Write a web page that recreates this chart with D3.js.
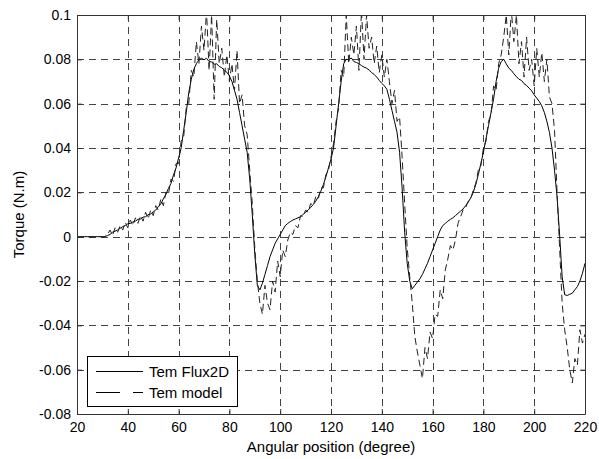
<!DOCTYPE html>
<html><head><meta charset="utf-8">
<script src="https://cdn.jsdelivr.net/npm/d3@7"></script>
<style>body{margin:0;background:#fff;} svg{display:block;}</style>
</head><body>
<svg id="chart" width="599" height="459"></svg>
<script>
const xTicks = [20,40,60,80,100,120,140,160,180,200,220];
const yTicks = [0.1,0.08,0.06,0.04,0.02,0,-0.02,-0.04,-0.06,-0.08];
const yTickLabels = ["0.1","0.08","0.06","0.04","0.02","0","-0.02","-0.04","-0.06","-0.08"];
const seriesNames = ["Tem Flux2D","Tem model"];
const angle = d3.range(20,221,1);
const fluxTorque = [
0,0,0,0,0,0,0,0,0,0,0,0,            // 20-31
0.0005,0.001,0.002,0.0025,0.003,0.0038,0.0045,0.005,0.0058, // 32-40
0.006,0.0066,0.007,0.0078,0.008,0.0088,0.009,0.0099,0.0102,0.0112, // 41-50
0.012,0.0135,0.0148,0.0171,0.019,0.0218,0.024,0.0279,0.031,0.0355, // 51-60
0.04,0.048,0.056,0.065,0.071,0.0755,0.078,0.0798,0.0805,0.0798, // 61-70
0.0805,0.079,0.0788,0.0778,0.078,0.0768,0.0762,0.075,0.0742,0.0725, // 71-80
0.07,0.066,0.062,0.056,0.05,0.044,0.038,0.026,0.01,-0.008, // 81-90
-0.022,-0.024,-0.021,-0.017,-0.013,-0.009,-0.006,-0.003,-0.001,0.001, // 91-100
0.003,0.005,0.006,0.0068,0.0075,0.008,0.0085,0.009,0.01,0.011, // 101-110
0.012,0.0132,0.0145,0.016,0.018,0.0205,0.0235,0.027,0.031,0.035, // 111-120
0.04,0.05,0.06,0.07,0.078,0.08,0.0798,0.0806,0.079,0.0786, // 121-130
0.078,0.0772,0.0765,0.076,0.0752,0.074,0.0732,0.072,0.0705,0.0692, // 131-140
0.068,0.0665,0.062,0.057,0.052,0.047,0.038,0.022,0.002,-0.012, // 141-150
-0.02,-0.0235,-0.022,-0.0205,-0.019,-0.017,-0.0145,-0.012,-0.009,-0.006, // 151-160
-0.003,0,0.003,0.005,0.006,0.007,0.0078,0.0085,0.0095,0.0105, // 161-170
0.0115,0.0125,0.014,0.0155,0.0175,0.02,0.0235,0.028,0.033,0.038, // 171-180
0.044,0.05,0.056,0.062,0.07,0.076,0.079,0.08,0.078,0.076, // 181-190
0.075,0.0735,0.0722,0.071,0.0705,0.069,0.0682,0.067,0.0658,0.064, // 191-200
0.0625,0.061,0.059,0.056,0.052,0.047,0.04,0.03,0.018,0.001, // 201-210
-0.018,-0.0262,-0.0265,-0.026,-0.0255,-0.024,-0.0225,-0.02,-0.0165,-0.012 // 211-220
];
const modelTorque = [
0,0,0,0,0,0,0,0,0,0,0,0,            // 20-31
0.001,0.003,0.0005,0.004,0.002,0.005,0.003,0.0065,0.004, // 32-40
0.0075,0.005,0.0085,0.006,0.0095,0.007,0.011,0.008,0.012,0.0095, // 41-50
0.014,0.012,0.017,0.014,0.02,0.019,0.026,0.025,0.033,0.033, // 51-60
0.043,0.045,0.058,0.06,0.075,0.072,0.088,0.078,0.095,0.084, // 61-70
0.102,0.075,0.1,0.062,0.098,0.078,0.085,0.072,0.082,0.07, // 71-80
0.078,0.066,0.084,0.06,0.064,0.05,0.046,0.03,0.015,-0.005, // 81-90
-0.02,-0.03,-0.035,-0.022,-0.03,-0.033,-0.02,-0.025,-0.011,-0.018, // 91-100
-0.006,-0.009,-0.0015,0.002,0.001,0.005,0.004,0.0095,0.009,0.012, // 101-110
0.011,0.015,0.014,0.018,0.017,0.022,0.022,0.028,0.03,0.036, // 111-120
0.042,0.052,0.058,0.075,0.072,0.1,0.078,0.09,0.082,0.095, // 121-130
0.075,0.102,0.08,0.1,0.085,0.09,0.078,0.086,0.074,0.082, // 131-140
0.072,0.08,0.07,0.06,0.066,0.052,0.054,0.036,0.015,-0.005, // 141-150
-0.018,-0.03,-0.045,-0.052,-0.058,-0.064,-0.05,-0.055,-0.043,-0.046, // 151-160
-0.035,-0.036,-0.024,-0.028,-0.015,-0.01,-0.004,-0.006,-0.0015,0.006, // 161-170
0.009,0.012,0.013,0.016,0.017,0.021,0.024,0.03,0.032,0.04, // 171-180
0.043,0.052,0.055,0.068,0.066,0.078,0.082,0.09,0.1,0.082, // 181-190
0.102,0.088,0.1,0.078,0.088,0.072,0.09,0.075,0.08,0.068, // 191-200
0.085,0.072,0.083,0.07,0.08,0.063,0.06,0.048,0.02,-0.005, // 201-210
-0.03,-0.042,-0.05,-0.06,-0.066,-0.055,-0.058,-0.042,-0.048,-0.044 // 211-220
];

const svg = d3.select("#chart");
const m = {left:77, top:15, right:585, bottom:414};
const x = d3.scaleLinear().domain([20,220]).range([m.left, m.right]);
const y = d3.scaleLinear().domain([-0.08,0.1]).range([m.bottom, m.top]);
const font = "Arial, 'Liberation Sans', Helvetica, sans-serif";

svg.append("rect").attr("x",0).attr("y",0).attr("width",599).attr("height",459).attr("fill","#fff");

// grid
const grid = svg.append("g");
grid.selectAll("line.v").data(xTicks.slice(1,-1)).join("line")
  .attr("x1",d=>Math.round(x(d))+0.5).attr("x2",d=>Math.round(x(d))+0.5).attr("y1",m.top).attr("y2",m.bottom)
  .attr("stroke","#444").attr("stroke-width",1).attr("stroke-dasharray","7,5");
grid.selectAll("line.h").data(yTicks.slice(1,-1)).join("line")
  .attr("y1",d=>Math.round(y(d))+0.5).attr("y2",d=>Math.round(y(d))+0.5).attr("x1",m.left).attr("x2",m.right)
  .attr("stroke","#444").attr("stroke-width",1).attr("stroke-dasharray","7,5");

// clip
svg.append("clipPath").attr("id","clip").append("rect")
  .attr("x",m.left).attr("y",m.top).attr("width",m.right-m.left).attr("height",m.bottom-m.top);

const line = d3.line().x((d,i)=>x(angle[i])).y(d=>y(d));
svg.append("path").datum(fluxTorque).attr("clip-path","url(#clip)")
  .attr("d",line).attr("fill","none").attr("stroke","#000").attr("stroke-width",1);
svg.append("path").datum(modelTorque).attr("clip-path","url(#clip)")
  .attr("d",line).attr("fill","none").attr("stroke","#222").attr("stroke-width",1).attr("stroke-dasharray","7,4");

// axes
const xAxisB = d3.axisBottom(x).tickValues(xTicks).tickSizeInner(-5).tickSizeOuter(0).tickPadding(8);
const xAxisT = d3.axisTop(x).tickValues(xTicks).tickSizeInner(-5).tickSizeOuter(0).tickFormat("");
const yAxisL = d3.axisLeft(y).tickValues(yTicks).tickSizeInner(-5).tickSizeOuter(0).tickPadding(6)
  .tickFormat((d,i)=>yTickLabels[i]);
const yAxisR = d3.axisRight(y).tickValues(yTicks).tickSizeInner(-5).tickSizeOuter(0).tickFormat("");
function style(g){
  g.selectAll("path").attr("stroke","#333");
  g.selectAll("line").attr("stroke","#333");
  g.selectAll("text").attr("fill","#000").style("font-family",font).style("font-size","14px");
}
svg.append("g").attr("transform",`translate(0,${m.bottom})`).call(xAxisB).call(style);
svg.append("g").attr("transform",`translate(0,${m.top})`).call(xAxisT).call(style);
svg.append("g").attr("transform",`translate(${m.left},0)`).call(yAxisL).call(style);
svg.append("g").attr("transform",`translate(${m.right},0)`).call(yAxisR).call(style);

// labels
svg.append("text").attr("x",(m.left+m.right)/2).attr("y",452).attr("text-anchor","middle")
  .style("font-family",font).style("font-size","15px").text("Angular position (degree)");
svg.append("text").attr("transform",`translate(24,${(m.top+m.bottom)/2}) rotate(-90)`).attr("text-anchor","middle")
  .style("font-family",font).style("font-size","15px").text("Torque (N.m)");

// legend
const lg = svg.append("g");
lg.append("rect").attr("x",87.5).attr("y",356.5).attr("width",150).attr("height",50)
  .attr("fill","#fff").attr("stroke","#000").attr("stroke-width",1);
const dashes = [null,"24,13,10"];
seriesNames.forEach((name,i)=>{
  const yy = 371 + i*21;
  lg.append("line").attr("x1",96).attr("x2",143).attr("y1",yy+0.5).attr("y2",yy+0.5)
    .attr("stroke","#000").attr("stroke-width",1).attr("stroke-dasharray",dashes[i]);
  lg.append("text").attr("x",149).attr("y",yy+6).style("font-family",font).style("font-size","15px").text(name);
});
</script>
</body></html>
